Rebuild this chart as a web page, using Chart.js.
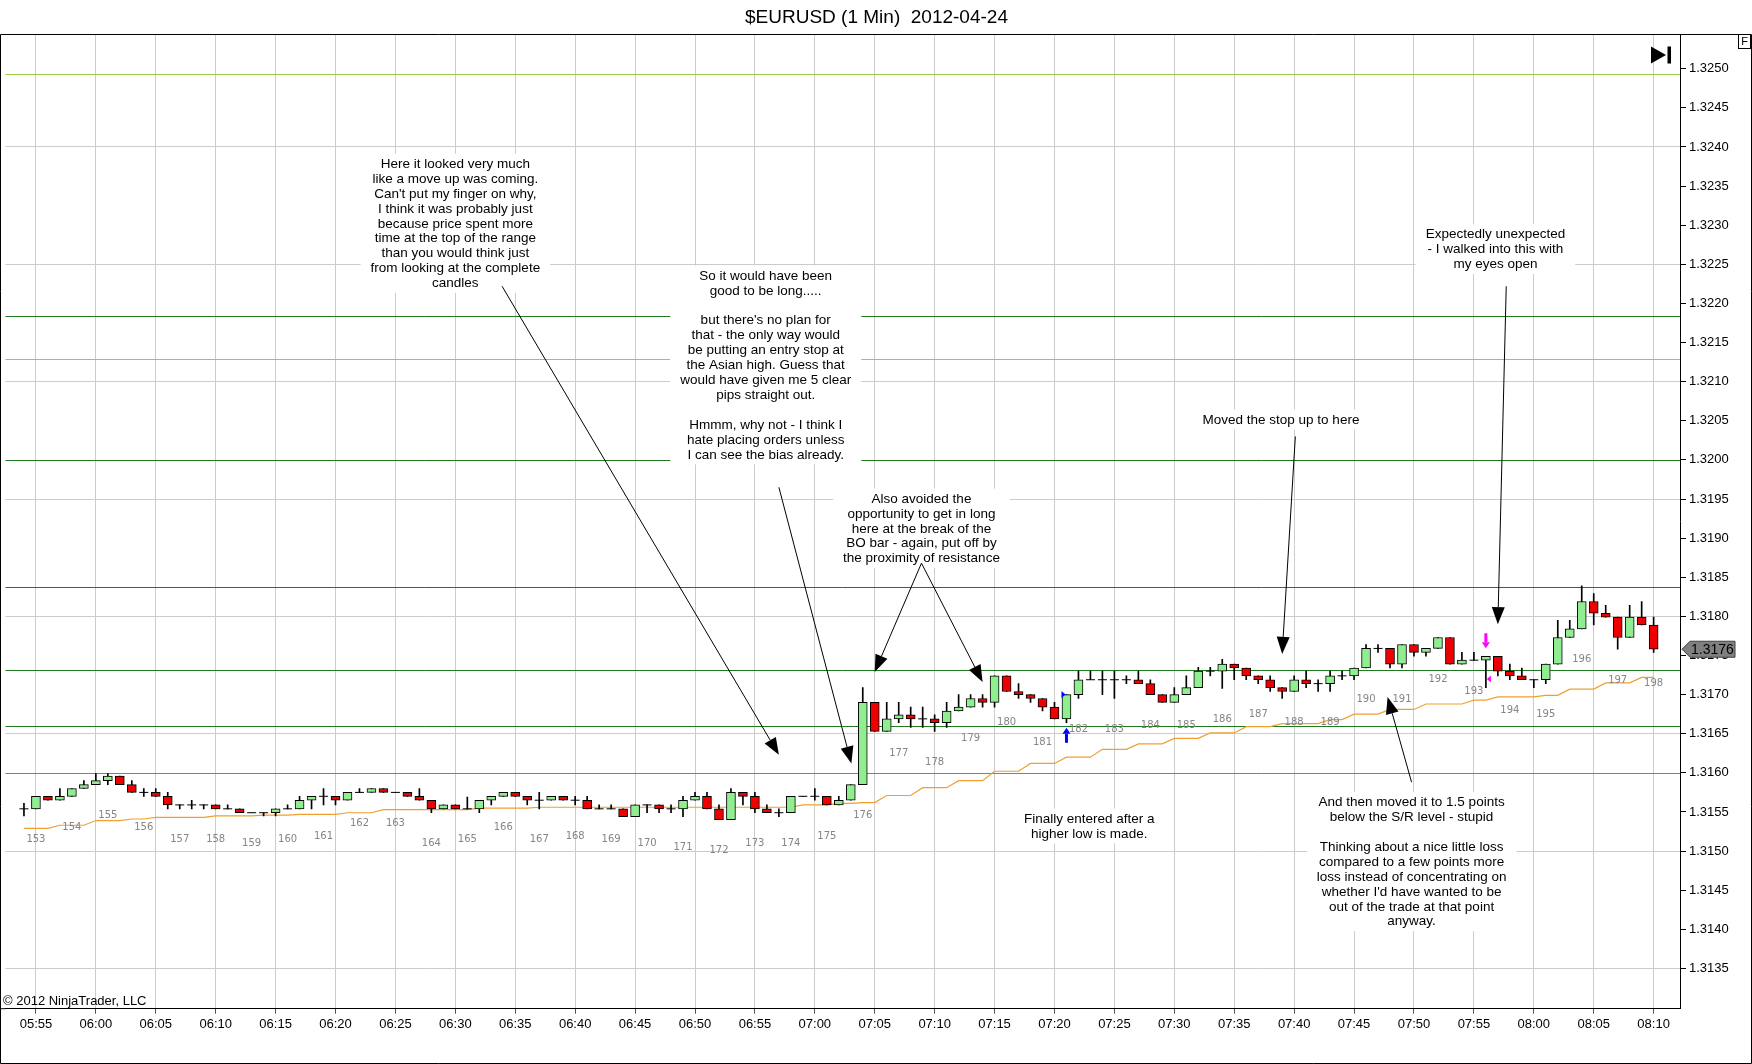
<!DOCTYPE html>
<html>
<head>
<meta charset="utf-8">
<title>$EURUSD (1 Min) 2012-04-24</title>
<script src="https://cdn.jsdelivr.net/npm/chart.js@4.4.1/dist/chart.umd.min.js"></script>
<style>
  html, body { margin: 0; padding: 0; background: #fff; }
  #wrap { width: 1752px; height: 1064px; }
</style>
</head>
<body>
<div id="wrap"><canvas id="chart"></canvas></div>
<script>
// one bar per minute, bar 0 = 05:54
const timeLabels = [
  "05:55", "06:00", "06:05", "06:10", "06:15", "06:20", "06:25", "06:30", "06:35", "06:40",
  "06:45", "06:50", "06:55", "07:00", "07:05", "07:10", "07:15", "07:20", "07:25", "07:30",
  "07:35", "07:40", "07:45", "07:50", "07:55", "08:00", "08:05", "08:10",
];

const priceTicks = [
  1.3135, 1.314, 1.3145, 1.315, 1.3155, 1.316, 1.3165, 1.317, 1.3175, 1.318, 1.3185, 1.319,
  1.3195, 1.32, 1.3205, 1.321, 1.3215, 1.322, 1.3225, 1.323, 1.3235, 1.324, 1.3245, 1.325,
];

const opens = [
  1.31554, 1.31554, 1.3157, 1.31565, 1.3157, 1.3158, 1.31585, 1.3159, 1.31596, 1.31585,
  1.31575, 1.31575, 1.3157, 1.31559, 1.31559, 1.31559, 1.31559, 1.31554, 1.31554, 1.31549,
  1.31549, 1.31549, 1.31554, 1.31554, 1.31565, 1.3157, 1.3157, 1.31565, 1.31575, 1.31575,
  1.3158, 1.31575, 1.31575, 1.3157, 1.31565, 1.31554, 1.31559, 1.31554, 1.31554, 1.31565,
  1.3157, 1.31575, 1.3157, 1.31565, 1.31565, 1.3157, 1.31565, 1.31565, 1.31554, 1.31554,
  1.31554, 1.31544, 1.31559, 1.31559, 1.31554, 1.31554, 1.31565, 1.3157, 1.31554, 1.3154,
  1.31575, 1.3157, 1.31554, 1.31549, 1.31549, 1.3157, 1.3157, 1.3157, 1.31559, 1.31565,
  1.31585, 1.3169, 1.31653, 1.31669, 1.31674, 1.31669, 1.31669, 1.31664, 1.31679, 1.31684,
  1.31695, 1.3169, 1.31724, 1.31704, 1.317, 1.31695, 1.31684, 1.31669, 1.317, 1.31719,
  1.31719, 1.31719, 1.31719, 1.31719, 1.31714, 1.317, 1.3169, 1.317, 1.31709, 1.3173,
  1.3173, 1.31739, 1.31734, 1.31724, 1.31719, 1.31709, 1.31704, 1.31719, 1.31714, 1.31714,
  1.31724, 1.31724, 1.31734, 1.31759, 1.31759, 1.31739, 1.31764, 1.31754, 1.31759, 1.31773,
  1.31739, 1.31744, 1.31744, 1.31749, 1.3173, 1.31724, 1.31719, 1.31719, 1.31739, 1.31773,
  1.31784, 1.31819, 1.31804, 1.31799, 1.31773, 1.31799, 1.31789,
];
const highs = [
  1.31561, 1.3157, 1.3157, 1.3158, 1.3158, 1.3159, 1.31599, 1.31599, 1.31596, 1.3159,
  1.3158, 1.3158, 1.31575, 1.31559, 1.31565, 1.31559, 1.31559, 1.31559, 1.31554, 1.31549,
  1.31549, 1.31554, 1.31559, 1.3157, 1.3157, 1.3158, 1.3157, 1.31575, 1.3158, 1.3158,
  1.3158, 1.31575, 1.31575, 1.3158, 1.31565, 1.31559, 1.31559, 1.31569, 1.31565, 1.3157,
  1.31575, 1.31575, 1.3157, 1.31575, 1.3157, 1.3157, 1.3157, 1.3157, 1.31559, 1.31559,
  1.31554, 1.31559, 1.31559, 1.31559, 1.31559, 1.3157, 1.31575, 1.31575, 1.31559, 1.3158,
  1.31575, 1.31575, 1.31559, 1.31554, 1.3157, 1.3157, 1.3158, 1.3157, 1.3157, 1.31585,
  1.31709, 1.3169, 1.3169, 1.3169, 1.31684, 1.31684, 1.31674, 1.3169, 1.317, 1.317,
  1.317, 1.31724, 1.31724, 1.31714, 1.317, 1.31695, 1.3169, 1.317, 1.3173, 1.3173,
  1.3173, 1.3173, 1.31724, 1.3173, 1.31719, 1.317, 1.31709, 1.31724, 1.31735, 1.31735,
  1.31745, 1.31739, 1.31734, 1.31724, 1.31724, 1.31709, 1.31724, 1.3173, 1.31719, 1.3173,
  1.3173, 1.31734, 1.31764, 1.31764, 1.31759, 1.31764, 1.31764, 1.31759, 1.31773, 1.31773,
  1.31754, 1.31754, 1.31749, 1.31749, 1.31739, 1.31734, 1.31719, 1.31739, 1.31795, 1.31795,
  1.31839, 1.31829, 1.31814, 1.31799, 1.31814, 1.31819, 1.31799,
];
const lows = [
  1.31545, 1.31554, 1.31565, 1.31565, 1.3157, 1.3158, 1.31585, 1.31585, 1.31585, 1.31575,
  1.3157, 1.3157, 1.31554, 1.31554, 1.31554, 1.31554, 1.31554, 1.31554, 1.31549, 1.31549,
  1.31545, 1.31545, 1.31554, 1.31554, 1.31554, 1.31559, 1.31559, 1.31565, 1.31575, 1.31575,
  1.31575, 1.31575, 1.3157, 1.31565, 1.31549, 1.31554, 1.31554, 1.31554, 1.31549, 1.31559,
  1.3157, 1.3157, 1.31559, 1.31554, 1.31565, 1.31565, 1.31559, 1.31554, 1.31554, 1.31554,
  1.31544, 1.31544, 1.31549, 1.31549, 1.31549, 1.31544, 1.31565, 1.31554, 1.3154, 1.3154,
  1.31559, 1.31549, 1.31549, 1.31544, 1.31549, 1.3157, 1.31565, 1.31559, 1.31559, 1.31565,
  1.31585, 1.31653, 1.31653, 1.31664, 1.31658, 1.31658, 1.31653, 1.31658, 1.31679, 1.31684,
  1.31684, 1.31684, 1.31704, 1.31695, 1.3169, 1.31679, 1.31669, 1.31664, 1.31695, 1.31719,
  1.317, 1.31695, 1.31714, 1.31714, 1.317, 1.3169, 1.3169, 1.317, 1.31709, 1.31724,
  1.31708, 1.31719, 1.31719, 1.31714, 1.31704, 1.31695, 1.31704, 1.31709, 1.31704, 1.31704,
  1.31719, 1.31719, 1.31734, 1.31754, 1.31734, 1.31734, 1.31749, 1.31749, 1.31759, 1.31739,
  1.31739, 1.31744, 1.31709, 1.31724, 1.31719, 1.31719, 1.31709, 1.31714, 1.31739, 1.31773,
  1.31784, 1.31789, 1.31799, 1.31758, 1.31773, 1.31789, 1.31754,
];
const closes = [
  1.31554, 1.3157, 1.31565, 1.3157, 1.3158, 1.31585, 1.3159, 1.31596, 1.31585, 1.31575,
  1.31575, 1.3157, 1.31559, 1.31559, 1.31559, 1.31559, 1.31554, 1.31554, 1.31549, 1.31549,
  1.31549, 1.31554, 1.31554, 1.31565, 1.3157, 1.3157, 1.31565, 1.31575, 1.31575, 1.3158,
  1.31575, 1.31575, 1.3157, 1.31565, 1.31554, 1.31559, 1.31554, 1.31554, 1.31565, 1.3157,
  1.31575, 1.3157, 1.31565, 1.31565, 1.3157, 1.31565, 1.31565, 1.31554, 1.31554, 1.31554,
  1.31544, 1.31559, 1.31559, 1.31554, 1.31554, 1.31565, 1.3157, 1.31554, 1.3154, 1.31575,
  1.3157, 1.31554, 1.31549, 1.31549, 1.3157, 1.3157, 1.3157, 1.31559, 1.31565, 1.31585,
  1.3169, 1.31653, 1.31669, 1.31674, 1.31669, 1.31669, 1.31664, 1.31679, 1.31684, 1.31695,
  1.3169, 1.31724, 1.31704, 1.317, 1.31695, 1.31684, 1.31669, 1.317, 1.31719, 1.31719,
  1.31719, 1.31719, 1.31719, 1.31714, 1.317, 1.3169, 1.317, 1.31709, 1.3173, 1.3173,
  1.31739, 1.31734, 1.31724, 1.31719, 1.31709, 1.31704, 1.31719, 1.31714, 1.31714, 1.31724,
  1.31724, 1.31734, 1.31759, 1.31759, 1.31739, 1.31764, 1.31754, 1.31759, 1.31773, 1.31739,
  1.31744, 1.31744, 1.31749, 1.3173, 1.31724, 1.31719, 1.31719, 1.31739, 1.31773, 1.31784,
  1.31819, 1.31804, 1.31799, 1.31773, 1.31799, 1.31789, 1.31758,
];

// orange stepped indicator
const trail = [
  1.31529, 1.31529, 1.31529, 1.31533, 1.31533, 1.31533, 1.31539, 1.31539, 1.31539, 1.31541,
  1.31541, 1.31543, 1.31543, 1.31543, 1.31543, 1.31543, 1.31545, 1.31545, 1.31545, 1.31545,
  1.31546, 1.31546, 1.31546, 1.31547, 1.31547, 1.31547, 1.31547, 1.31549, 1.31549, 1.31549,
  1.31553, 1.31553, 1.31553, 1.31553, 1.31553, 1.31553, 1.31553, 1.31553, 1.31555, 1.31555,
  1.31555, 1.31555, 1.31555, 1.31556, 1.31556, 1.31556, 1.31556, 1.31556, 1.31556, 1.31556,
  1.31556, 1.31556, 1.31556, 1.31556, 1.31556, 1.31556, 1.31556, 1.31556, 1.31556, 1.31556,
  1.31556, 1.31556, 1.31556, 1.31556, 1.31556, 1.31559, 1.31559, 1.31559, 1.31561, 1.31561,
  1.31562, 1.31562, 1.31571, 1.31571, 1.31571, 1.31581, 1.31581, 1.31581, 1.3159, 1.3159,
  1.3159, 1.31602, 1.31602, 1.31602, 1.31612, 1.31612, 1.31612, 1.3162, 1.3162, 1.3162,
  1.3163, 1.3163, 1.3163, 1.31637, 1.31637, 1.31637, 1.31644, 1.31644, 1.31644, 1.31651,
  1.31651, 1.31651, 1.31659, 1.31659, 1.31659, 1.31663, 1.31663, 1.31663, 1.31663, 1.31668,
  1.31668, 1.31675, 1.31675, 1.31675, 1.31681, 1.31681, 1.31681, 1.31688, 1.31688, 1.31688,
  1.31688, 1.31693, 1.31693, 1.31697, 1.31697, 1.31697, 1.31697, 1.31699, 1.31699, 1.31707,
  1.31707, 1.31707, 1.31715, 1.31715, 1.31715, 1.31722, 1.31722,
];

// bar counter, printed under every third bar starting at bar 1
const counterNumbers = [
  153, 154, 155, 156, 157, 158, 159, 160, 161, 162, 163, 164, 165, 166, 167, 168,
  169, 170, 171, 172, 173, 174, 175, 176, 177, 178, 179, 180, 181, 182, 183, 184,
  185, 186, 187, 188, 189, 190, 191, 192, 193, 194, 195, 196, 197, 198,
];

// drawn horizontal lines
const levelPrices = [1.32493, 1.32184, 1.32129, 1.32, 1.31837, 1.31731, 1.3166, 1.316];
const levelColors = ["#99cc44", "#1f7a1f", "#99cc44", "#1f7a1f", "#1f7a1f", "#1f7a1f", "#1f7a1f", "#3a9c9c"];

// trade markers
const entryBar = 87, entryPrice = 1.317;
const exitBar = 122, exitPrice = 1.3172;

// text notes: centre bar, price of first line
const notes = [
  { bar: 36.0, price: 1.32378, lines: [
    "Here it looked very much", "like a move up was coming.", "Can't put my finger on why,",
    "I think it was probably just", "because price spent more", "time at the top of the range",
    "than you would think just", "from looking at the complete", "candles"] },
  { bar: 61.9, price: 1.32235, lines: [
    "So it would have been", "good to be long.....", "", "but there's no plan for",
    "that - the only way would", "be putting an entry stop at", "the Asian high. Guess that",
    "would have given me 5 clear", "pips straight out.", "", "Hmmm, why not - I think I",
    "hate placing orders unless", "I can see the bias already."] },
  { bar: 74.9, price: 1.3195, lines: [
    "Also avoided the", "opportunity to get in long", "here at the break of the",
    "BO bar - again, put off by", "the proximity of resistance"] },
  { bar: 104.9, price: 1.32051, lines: ["Moved the stop up to here"] },
  { bar: 122.8, price: 1.32288, lines: [
    "Expectedly unexpected", "- I walked into this with", "my eyes open"] },
  { bar: 88.9, price: 1.31541, lines: ["Finally entered after a", "higher low is made."] },
  { bar: 115.8, price: 1.31562, lines: [
    "And then moved it to 1.5 points", "below the S/R level - stupid", "",
    "Thinking about a nice little loss", "compared to a few points more",
    "loss instead of concentrating on", "whether I'd have wanted to be",
    "out of the trade at that point", "anyway."] },
];

const arrows = [
  { from: [39.9, 1.32222], to: [63.0, 1.31623] },
  { from: [63.0, 1.31965], to: [69.05, 1.31612] },
  { from: [74.9, 1.31868], to: [71.0, 1.31729] },
  { from: [74.9, 1.31868], to: [80.0, 1.31716] },
  { from: [106.1, 1.3203], to: [105.0, 1.31752] },
  { from: [123.7, 1.32222], to: [123.0, 1.3179] },
  { from: [115.8, 1.31588], to: [113.8, 1.31697] },
];

const UP = "#90ee90";
const DOWN = "#ee0000";
const FONT = '"Liberation Sans", Arial, sans-serif';
const NOTE_LINE = 14.9;

Chart.defaults.font.family = FONT;

const wickData = opens.map((o, i) => ({ x: i, y: [lows[i], highs[i]] }));
const bodyData = [];
const bodyColors = [];
const dojiData = [];
opens.forEach((o, i) => {
  const c = closes[i];
  if (o === c) {
    dojiData.push({ x: i, y: c });
  } else {
    bodyData.push({ x: i, y: [Math.min(o, c), Math.max(o, c)] });
    bodyColors.push(c > o ? UP : DOWN);
  }
});
const trailData = trail.map((v, i) => ({ x: i, y: v }));

function isGridPrice(v) {
  return (Math.round(v * 10000) - 13135) % 15 === 0;
}

function drawArrow(ctx, x1, y1, x2, y2) {
  const a = Math.atan2(y2 - y1, x2 - x1);
  const len = 17, half = 6.5;
  const bx = x2 - len * Math.cos(a);
  const by = y2 - len * Math.sin(a);
  ctx.beginPath();
  ctx.moveTo(x1, y1);
  ctx.lineTo(bx, by);
  ctx.stroke();
  ctx.beginPath();
  ctx.moveTo(x2, y2);
  ctx.lineTo(bx + half * Math.sin(a), by - half * Math.cos(a));
  ctx.lineTo(bx - half * Math.sin(a), by + half * Math.cos(a));
  ctx.closePath();
  ctx.fill();
}

// level lines, then the white note boxes over them
const levelsAndNotes = {
  id: "levelsAndNotes",
  beforeDatasetsDraw(chart) {
    const { ctx, chartArea: { left, right }, scales: { x, y } } = chart;
    ctx.save();
    ctx.lineWidth = 1;
    levelPrices.forEach((p, k) => {
      const py = Math.round(y.getPixelForValue(p)) + 0.5;
      ctx.strokeStyle = levelColors[k];
      ctx.beginPath();
      ctx.moveTo(left, py);
      ctx.lineTo(right, py);
      ctx.stroke();
    });

    ctx.font = "13.5px " + FONT;
    ctx.textAlign = "center";
    ctx.textBaseline = "middle";
    notes.forEach((n) => {
      const cx = x.getPixelForValue(n.bar);
      const top = y.getPixelForValue(n.price);
      const w = Math.max(...n.lines.map((t) => ctx.measureText(t).width));
      ctx.fillStyle = "#ffffff";
      ctx.fillRect(cx - w / 2 - 10, top - NOTE_LINE / 2 - 3, w + 20, n.lines.length * NOTE_LINE + 5);
      ctx.fillStyle = "#000000";
      n.lines.forEach((t, k) => ctx.fillText(t, cx, top + k * NOTE_LINE));
    });
    ctx.restore();
  },
};

// bar counter, arrows and trade markers
const overlays = {
  id: "overlays",
  afterDatasetsDraw(chart) {
    const { ctx, chartArea: { top, right }, scales: { x, y } } = chart;
    ctx.save();

    ctx.font = '10px "DejaVu Sans", sans-serif';
    ctx.fillStyle = "#858585";
    ctx.textAlign = "center";
    ctx.textBaseline = "middle";
    counterNumbers.forEach((n, k) => {
      const bar = 1 + 3 * k;
      ctx.fillText(String(n), x.getPixelForValue(bar), y.getPixelForValue(lows[bar]) + 31);
    });

    ctx.strokeStyle = "#000";
    ctx.fillStyle = "#000";
    ctx.lineWidth = 1;
    arrows.forEach((a) => {
      drawArrow(ctx,
        x.getPixelForValue(a.from[0]), y.getPixelForValue(a.from[1]),
        x.getPixelForValue(a.to[0]), y.getPixelForValue(a.to[1]));
    });

    // entry: blue up arrow under the bar, small flag at the fill price
    let cx = x.getPixelForValue(entryBar);
    let py = y.getPixelForValue(lows[entryBar]) + 5;
    ctx.fillStyle = "#0000ff";
    ctx.beginPath();
    ctx.moveTo(cx, py);
    ctx.lineTo(cx + 4, py + 6);
    ctx.lineTo(cx - 4, py + 6);
    ctx.closePath();
    ctx.fill();
    ctx.fillRect(cx - 1.5, py + 6, 3, 9);
    py = y.getPixelForValue(entryPrice);
    ctx.beginPath();
    ctx.moveTo(cx - 5, py - 3.5);
    ctx.lineTo(cx - 1, py);
    ctx.lineTo(cx - 5, py + 3.5);
    ctx.closePath();
    ctx.fill();

    // exit: magenta down arrow over the bar, small flag at the fill price
    cx = x.getPixelForValue(exitBar);
    py = y.getPixelForValue(highs[exitBar]) - 8;
    ctx.fillStyle = "#ff00ff";
    ctx.beginPath();
    ctx.moveTo(cx, py);
    ctx.lineTo(cx + 4, py - 6);
    ctx.lineTo(cx - 4, py - 6);
    ctx.closePath();
    ctx.fill();
    ctx.fillRect(cx - 1.5, py - 15, 3, 9);
    py = y.getPixelForValue(exitPrice);
    ctx.beginPath();
    ctx.moveTo(cx + 5, py - 3.5);
    ctx.lineTo(cx + 1, py);
    ctx.lineTo(cx + 5, py + 3.5);
    ctx.closePath();
    ctx.fill();

    // "go to last bar" button
    ctx.fillStyle = "#000";
    ctx.beginPath();
    ctx.moveTo(right - 29, top + 12);
    ctx.lineTo(right - 14, top + 20.5);
    ctx.lineTo(right - 29, top + 29);
    ctx.closePath();
    ctx.fill();
    ctx.fillRect(right - 12.5, top + 12, 3.5, 17);
    ctx.restore();
  },
};

// outer frame, price tag, copyright
const frame = {
  id: "frame",
  afterDraw(chart) {
    const { ctx, width, height, chartArea: { top, right, bottom, left }, scales: { y } } = chart;
    ctx.save();
    ctx.strokeStyle = "#000";
    ctx.lineWidth = 1;
    ctx.beginPath();
    ctx.moveTo(0.5, top);
    ctx.lineTo(width - 0.5, top);
    ctx.lineTo(width - 0.5, height - 0.5);
    ctx.lineTo(0.5, height - 0.5);
    ctx.closePath();
    ctx.stroke();
    ctx.beginPath();
    ctx.moveTo(0, bottom);
    ctx.lineTo(left, bottom);
    ctx.stroke();

    ctx.strokeRect(width - 13.5, top, 12, 14);
    ctx.fillStyle = "#000";
    ctx.font = "11px " + FONT;
    ctx.textAlign = "center";
    ctx.textBaseline = "middle";
    ctx.fillText("F", width - 7.5, top + 7.5);

    const last = closes[closes.length - 1];
    const py = y.getPixelForValue(last);
    ctx.fillStyle = "#808080";
    ctx.strokeStyle = "#404040";
    ctx.beginPath();
    ctx.moveTo(right + 2, py);
    ctx.lineTo(right + 10, py - 8);
    ctx.lineTo(right + 55, py - 8);
    ctx.lineTo(right + 55, py + 8);
    ctx.lineTo(right + 10, py + 8);
    ctx.closePath();
    ctx.fill();
    ctx.stroke();
    ctx.fillStyle = "#000";
    ctx.font = "14px " + FONT;
    ctx.textAlign = "left";
    ctx.fillText(last.toFixed(4), right + 11, py + 0.5);

    ctx.font = "13px " + FONT;
    ctx.textBaseline = "alphabetic";
    ctx.fillText("\u00a9 2012 NinjaTrader, LLC", 3, bottom - 4);
    ctx.restore();
  },
};

const config = {
  type: "bar",
  data: {
    datasets: [
      {
        type: "line",
        label: "trail",
        data: trailData,
        borderColor: "#f0a030",
        borderWidth: 1.2,
        pointRadius: 0,
        tension: 0,
        order: 4,
      },
      {
        label: "wicks",
        data: wickData,
        backgroundColor: "#000",
        barThickness: 1,
        grouped: false,
        order: 3,
      },
      {
        label: "bodies",
        data: bodyData,
        backgroundColor: bodyColors,
        borderColor: "#000",
        borderWidth: 1,
        borderSkipped: false,
        barThickness: 9,
        grouped: false,
        order: 2,
      },
      {
        type: "line",
        label: "doji",
        data: dojiData,
        showLine: false,
        pointStyle: "line",
        pointRadius: 4.5,
        pointBorderColor: "#000",
        pointBorderWidth: 1,
        order: 1,
      },
    ],
  },
  options: {
    responsive: true,
    maintainAspectRatio: false,
    animation: false,
    events: [],
    layout: { padding: { left: 1, right: 0, top: 0, bottom: 0 } },
    plugins: {
      legend: { display: false },
      tooltip: { enabled: false },
      title: {
        display: true,
        text: "$EURUSD (1 Min)  2012-04-24",
        color: "#000",
        font: { size: 19, weight: "normal" },
        padding: { top: 6, bottom: 5.7 },
      },
    },
    scales: {
      x: {
        type: "linear",
        position: "bottom",
        min: -1.54,
        max: 138.2,
        offset: false,
        grid: { color: "#cccccc", offset: false, tickColor: "#555", tickLength: 5 },
        border: { display: true, color: "#000" },
        ticks: {
          color: "#000",
          font: { size: 13 },
          padding: 3,
          maxRotation: 0,
          autoSkip: false,
          callback: (v, k) => timeLabels[k],
        },
        afterBuildTicks: (scale) => {
          scale.ticks = timeLabels.map((t, k) => ({ value: 1 + 5 * k }));
        },
        afterFit: (scale) => {
          scale.height = 55.3;
        },
      },
      y: {
        type: "linear",
        position: "right",
        min: 1.312985,
        max: 1.325438,
        grid: {
          color: (c) => (c.tick && isGridPrice(c.tick.value) ? "#cccccc" : "rgba(0,0,0,0)"),
          tickColor: "#000",
          tickLength: 6,
        },
        border: { display: true, color: "#000" },
        ticks: {
          color: "#000",
          font: { size: 13 },
          padding: 3,
          callback: (v) => Number(v).toFixed(4),
        },
        afterBuildTicks: (scale) => {
          scale.ticks = priceTicks.map((v) => ({ value: v }));
        },
        afterFit: (scale) => {
          scale.width = 72;
        },
      },
    },
  },
  plugins: [levelsAndNotes, overlays, frame],
};

const myChart = new Chart(document.getElementById("chart"), config);
</script>
</body>
</html>
